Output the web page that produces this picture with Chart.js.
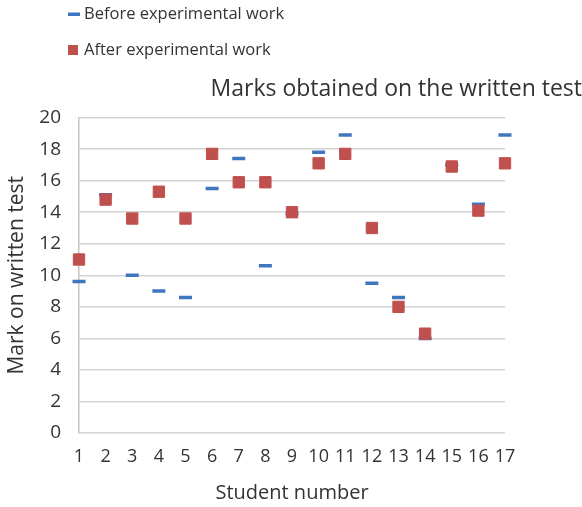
<!DOCTYPE html>
<html>
<head>
<meta charset="utf-8">
<script src="https://cdn.jsdelivr.net/npm/chart.js@4/dist/chart.umd.min.js"></script>
<style>
  html, body { margin: 0; padding: 0; background: #ffffff; }
  #wrap { width: 582px; height: 507px; position: relative; }
</style>
</head>
<body>
<div id="wrap"><canvas id="c" width="582" height="507"></canvas></div>
<script>
const students = ['1','2','3','4','5','6','7','8','9','10','11','12','13','14','15','16','17'];
const beforeMarks = [9.6, 15.1, 10.0, 9.0, 8.6, 15.5, 17.4, 10.6, 13.9, 17.8, 18.9, 9.5, 8.6, 6.0, 17.0, 14.5, 18.9];
const afterMarks = [11.0, 14.8, 13.6, 15.3, 13.6, 17.7, 15.9, 15.9, 14.0, 17.1, 17.7, 13.0, 8.0, 6.3, 16.9, 14.1, 17.1];
const seriesNames = ['Before experimental work', 'After experimental work'];
const chartTitle = 'Marks obtained on the written test';
const xTitle = 'Student number';
const yTitle = 'Mark on written test';

const BLUE = '#3F76C0';
const RED = '#C0504D';
const TEXT = '#333333';
const FONT = "'Open Sans', sans-serif";

const manualLegend = {
  id: 'manualLegend',
  afterDraw(chart) {
    const ctx = chart.ctx;
    ctx.save();
    ctx.font = "16.5px 'Open Sans', sans-serif";
    ctx.textBaseline = 'middle';
    ctx.textAlign = 'left';
    const ds = chart.data.datasets;
    // item 1: blue dash
    ctx.fillStyle = ds[0].borderColor;
    ctx.fillRect(68, 12.5, 12, 3.5);
    ctx.fillStyle = TEXT;
    ctx.fillText(ds[0].label, 84, 14);
    // item 2: red square
    ctx.fillStyle = ds[1].backgroundColor;
    ctx.fillRect(68, 45, 10, 10);
    ctx.fillStyle = TEXT;
    ctx.fillText(ds[1].label, 84, 50);
    ctx.restore();
  }
};

new Chart(document.getElementById('c'), {
  type: 'line',
  data: {
    labels: students,
    datasets: [
      {
        label: seriesNames[0],
        data: beforeMarks,
        showLine: false,
        pointStyle: 'line',
        pointRadius: 6.5,
        pointHoverRadius: 6.5,
        pointBorderWidth: 3.5,
        borderColor: BLUE,
        backgroundColor: BLUE,
        order: 1
      },
      {
        label: seriesNames[1],
        data: afterMarks,
        showLine: false,
        pointStyle: 'rect',
        pointRadius: 8,
        pointHoverRadius: 8,
        pointBorderWidth: 1,
        borderColor: RED,
        backgroundColor: RED,
        order: 0
      }
    ]
  },
  options: {
    responsive: false,
    animation: false,
    devicePixelRatio: 1,
    layout: { padding: 0 },
    plugins: {
      legend: { display: false },
      tooltip: { enabled: false },
      title: {
        display: true,
        text: chartTitle,
        align: 'end',
        color: TEXT,
        font: { family: FONT, size: 23, weight: 'normal', lineHeight: 1.2 },
        padding: { top: 76, bottom: 14 }
      }
    },
    scales: {
      x: {
        type: 'category',
        offset: false,
        grid: { display: false, drawTicks: false },
        border: { display: false },
        ticks: {
          autoSkip: false,
          maxRotation: 0,
          minRotation: 0,
          color: TEXT,
          padding: 13,
          font: { family: FONT, size: 18 }
        },
        title: {
          display: true,
          text: xTitle,
          color: TEXT,
          font: { family: FONT, size: 20 },
          padding: { top: 4, bottom: 2 }
        },
        afterFit(s) { s.height = 74; }
      },
      y: {
        min: 0,
        max: 20,
        grid: { color: '#d4d4d4', lineWidth: 1.5, drawTicks: false },
        border: { display: true, color: '#c4c4c4', width: 1.5 },
        ticks: {
          stepSize: 2,
          color: TEXT,
          padding: 18,
          font: { family: FONT, size: 19 }
        },
        title: {
          display: true,
          text: yTitle,
          color: TEXT,
          font: { family: FONT, size: 21 },
          padding: { top: 4, bottom: 0 }
        },
        afterFit(s) { s.width = 79; }
      },
      yRight: {
        position: 'right',
        display: true,
        grid: { display: false, drawTicks: false },
        border: { display: false },
        ticks: { display: false },
        afterFit(s) { s.width = 77; }
      }
    }
  },
  plugins: [manualLegend]
});
</script>
</body>
</html>
